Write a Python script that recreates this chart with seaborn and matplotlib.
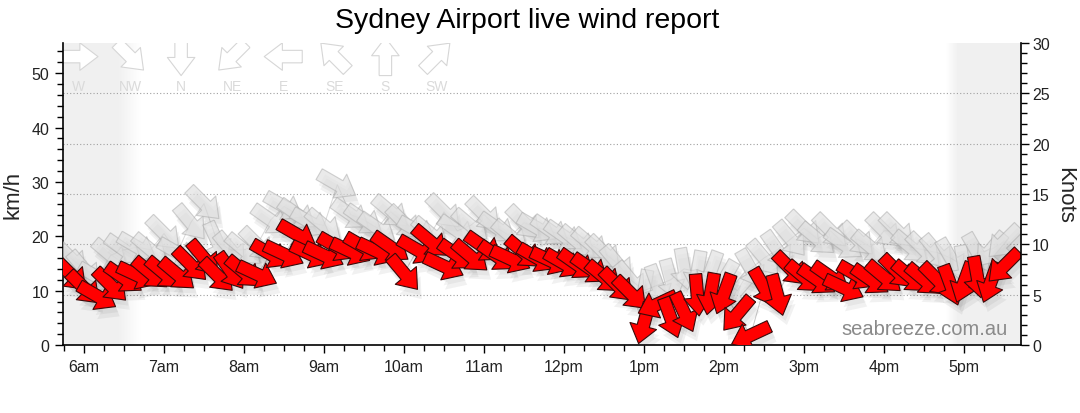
import numpy as np
import pandas as pd
import matplotlib
matplotlib.use("Agg")
import matplotlib.pyplot as plt
import matplotlib.patheffects as pe
from matplotlib.ticker import MultipleLocator, FixedLocator
import seaborn as sns

# 10-minute observations, Sydney Airport
times = [
    "05:50",
    "06:00", "06:10", "06:20", "06:30", "06:40", "06:50",
    "07:00", "07:10", "07:20", "07:30", "07:40", "07:50",
    "08:00", "08:10", "08:20", "08:30", "08:40", "08:50",
    "09:00", "09:10", "09:20", "09:30", "09:40", "09:50",
    "10:00", "10:10", "10:20", "10:30", "10:40", "10:50",
    "11:00", "11:10", "11:20", "11:30", "11:40", "11:50",
    "12:00", "12:10", "12:20", "12:30", "12:40", "12:50",
    "13:00", "13:10", "13:20", "13:30", "13:40", "13:50",
    "14:00", "14:10", "14:20", "14:30", "14:40", "14:50",
    "15:00", "15:10", "15:20", "15:30", "15:40", "15:50",
    "16:00", "16:10", "16:20", "16:30", "16:40", "16:50",
    "17:00", "17:10", "17:20", "17:30",
]

avg_kmh = [
    13.0,
    10.5, 9.0, 11.0, 12.3, 12.8, 13.2,
    13.2, 13.0, 14.8, 16.0, 12.8, 13.6,
    13.4, 13.0, 16.7, 16.7, 20.3, 16.7,
    16.5, 18.0, 17.2, 18.0, 17.2, 18.0,
    13.2, 17.5, 19.0, 14.5, 16.5, 16.3,
    18.0, 16.3, 15.8, 17.0, 16.0, 15.5,
    15.0, 14.8, 14.0, 12.5, 11.0, 9.5,
    4.0, 7.5, 5.0, 6.0, 9.2, 9.4,
    9.4, 5.7, 1.8, 10.6, 9.2, 14.0,
    12.5, 12.0, 12.5, 10.5, 12.8, 12.0,
    12.5, 13.5, 12.5, 12.0, 12.0, 11.0,
    11.5, 12.5, 11.5, 14.5,
]

# direction the wind comes from, degrees
avg_dir = [
    315,
    315, 300, 315, 305, 295, 310,
    310, 310, 315, 320, 315, 325,
    310, 295, 300, 295, 300, 295,
    295, 300, 295, 300, 295, 305,
    320, 300, 310, 295, 305, 310,
    305, 305, 295, 310, 300, 295,
    300, 305, 305, 310, 315, 315,
    15, 65, 340, 335, 355, 10,
    20, 40, 65, 330, 345, 315,
    310, 305, 305, 295, 300, 305,
    310, 315, 310, 310, 315, 340,
    20, 350, 20, 45,
]

gust_kmh = [
    16.0,
    14.0, 12.5, 16.5, 17.5, 18.0, 17.5,
    20.5, 17.0, 22.5, 26.0, 19.0, 17.5,
    17.5, 18.5, 23.0, 25.5, 24.0, 22.5,
    22.0, 29.5, 24.0, 23.0, 21.5, 24.5,
    22.5, 21.0, 20.5, 24.5, 21.0, 22.0,
    24.0, 21.5, 20.0, 22.5, 21.5, 21.0,
    20.0, 19.0, 18.5, 17.0, 15.0, 12.0,
    10.0, 11.0, 12.0, 14.0, 13.5, 13.5,
    12.0, 10.0, 14.0, 16.0, 17.5, 19.5,
    21.5, 19.5, 21.0, 18.5, 19.5, 18.0,
    21.0, 21.0, 18.0, 17.5, 17.0, 16.0,
    14.5, 17.0, 17.5, 19.0,
]

gust_dir = [
    315,
    320, 300, 310, 305, 300, 310,
    315, 300, 320, 315, 335, 320,
    310, 315, 305, 300, 305, 300,
    310, 300, 305, 305, 305, 310,
    315, 300, 310, 315, 305, 310,
    315, 305, 310, 315, 300, 305,
    305, 310, 310, 315, 320, 320,
    10, 340, 345, 350, 10, 20,
    30, 40, 330, 320, 325, 320,
    315, 310, 315, 305, 315, 310,
    315, 315, 310, 315, 320, 330,
    350, 330, 40, 45,
]

hour_ticks = [6, 7, 8, 9, 10, 11, 12, 13, 14, 15, 16, 17]
hour_labels = ["6am", "7am", "8am", "9am", "10am", "11am", "12pm",
               "1pm", "2pm", "3pm", "4pm", "5pm"]
kmh_ticks = [0, 10, 20, 30, 40, 50]
knot_ticks = [0, 5, 10, 15, 20, 25, 30]
compass_labels = ["W", "NW", "N", "NE", "E", "SE", "S", "SW"]
compass_dirs = [270, 315, 0, 45, 90, 135, 180, 225]

KMH_PER_KNOT = 1.852
ARROW_LEN = 42  # pixels
X_LIM = (5.7375, 17.7125)
NIGHT_AM = (6.42, 6.70)   # solid until, faded out by
NIGHT_PM = (16.78, 16.93)  # fade starts, solid from

df = pd.DataFrame({"time": times, "avg": avg_kmh, "avg_dir": avg_dir,
                   "gust": gust_kmh, "gust_dir": gust_dir})
df["hour"] = pd.to_timedelta(df["time"] + ":00").dt.total_seconds() / 3600


def to_uv(dirs, length=ARROW_LEN):
    rad = np.deg2rad(np.asarray(dirs, dtype=float))
    return -np.sin(rad) * length, -np.cos(rad) * length


sns.set_theme(style="ticks")
plt.rcParams["font.family"] = ["Liberation Sans", "DejaVu Sans"]

fig = plt.figure(figsize=(10.8, 4.14), dpi=100)
ax = fig.add_axes([63 / 1080, 1 - 346 / 414, 958 / 1080, 302 / 414])
ymax = knot_ticks[-1] * KMH_PER_KNOT

# night shading with soft edges
xs = np.linspace(X_LIM[0], X_LIM[1], 1200)
am = np.clip((NIGHT_AM[1] - xs) / (NIGHT_AM[1] - NIGHT_AM[0]), 0, 1)
pm = np.clip((xs - NIGHT_PM[0]) / (NIGHT_PM[1] - NIGHT_PM[0]), 0, 1)
shade = np.zeros((1, xs.size, 4))
shade[..., :3] = 0.945
shade[0, :, 3] = np.maximum(am, pm)
ax.imshow(shade, extent=[X_LIM[0], X_LIM[1], 0, ymax], aspect="auto",
          interpolation="bilinear", zorder=0)

# dotted grid on knot levels
for k in knot_ticks[1:-1]:
    ax.axhline(k * KMH_PER_KNOT, color="#a0a0a0", lw=0.8, ls=(0, (1, 2)), zorder=1)

# faint lines joining the points
sns.lineplot(data=df, x="hour", y="gust", ax=ax, color="#c8c8c8", lw=0.7,
             alpha=0.7, zorder=2)
sns.lineplot(data=df, x="hour", y="avg", ax=ax, color="#b0b0b0", lw=0.7,
             alpha=0.7, zorder=2)

shadow = [pe.SimplePatchShadow(offset=(3, -7), shadow_rgbFace="k", alpha=0.06),
          pe.SimplePatchShadow(offset=(2, -4), shadow_rgbFace="k", alpha=0.05),
          pe.Normal()]
arrow_kw = dict(angles="uv", scale_units="dots", scale=1, units="dots",
                width=12.5, headwidth=2.2, headlength=1.45, headaxislength=1.45,
                pivot="middle")

gu, gv = to_uv(df["gust_dir"])
q_g = ax.quiver(df["hour"], df["gust"], gu, gv, color=(0.88, 0.88, 0.88, 0.65),
                edgecolors=[(0.65, 0.65, 0.65, 0.5)], linewidths=0.8,
                zorder=3, **arrow_kw)
q_g.set_path_effects(shadow)

au, av = to_uv(df["avg_dir"])
q_a = ax.quiver(df["hour"], df["avg"], au, av, color="#ff0000",
                edgecolors=["#3a0a0a"], linewidths=0.8, zorder=4, **arrow_kw)
q_a.set_path_effects(shadow)

# compass key along the top
key_x = 0.0167 + 0.0533 * np.arange(len(compass_labels))
ku, kv = to_uv(compass_dirs, 38)
ax.quiver(key_x, np.full(len(key_x), 0.955), ku, kv, transform=ax.transAxes,
          color="white", edgecolors=["#d6d6d6"], linewidths=0.8, zorder=2,
          **arrow_kw)
for x, lab in zip(key_x, compass_labels):
    ax.text(x, 0.857, lab, transform=ax.transAxes, ha="center", va="center",
            color="#dadada", fontsize=10)

ax.text(0.986, 0.053, "seabreeze.com.au", transform=ax.transAxes, ha="right",
        va="center", color="#8a8a8a", fontsize=14.5, zorder=6)

ax.set_xlim(*X_LIM)
ax.set_ylim(0, ymax)
ax.set_xlabel("")
ax.set_ylabel("km/h", fontsize=16)
ax.yaxis.set_label_coords(-0.041, 0.5)
ax.xaxis.set_major_locator(FixedLocator(hour_ticks))
ax.set_xticklabels(hour_labels)
ax.xaxis.set_minor_locator(MultipleLocator(0.25))
ax.yaxis.set_major_locator(FixedLocator(kmh_ticks))
ax.yaxis.set_minor_locator(MultipleLocator(2))
ax.tick_params(which="major", length=6, width=1, color="black", labelsize=11.5,
               labelcolor="#222222", pad=4)
ax.tick_params(which="minor", length=4, width=1, color="black")
for s in ["top", "right"]:
    ax.spines[s].set_visible(False)
for s in ["left", "bottom"]:
    ax.spines[s].set_color("black")
    ax.spines[s].set_linewidth(1.2)

ax2 = ax.twinx()
ax2.set_ylim(0, knot_ticks[-1])
ax2.yaxis.set_major_locator(FixedLocator(knot_ticks))
ax2.yaxis.set_minor_locator(MultipleLocator(1))
ax2.tick_params(which="major", length=6, width=1, color="black", labelsize=11.5,
                labelcolor="#222222", pad=2)
ax2.tick_params(which="minor", length=4, width=1, color="black")
ax2.set_ylabel("Knots", fontsize=16, rotation=270)
ax2.yaxis.set_label_coords(1.056, 0.5)
for s in ["top", "left", "bottom"]:
    ax2.spines[s].set_visible(False)
ax2.spines["right"].set_color("black")
ax2.spines["right"].set_linewidth(1.2)
ax2.grid(False)

fig.text(527 / 1080, 1 - 21 / 414, "Sydney Airport live wind report",
         ha="center", va="center", fontsize=20.5, color="black")

fig.savefig("out.png", dpi=100)
plt.close(fig)
